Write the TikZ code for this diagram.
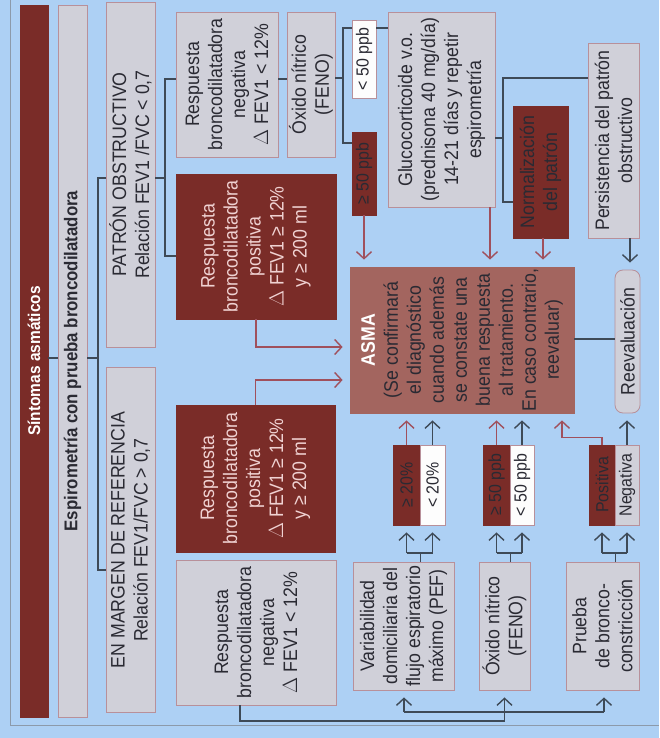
\documentclass[tikz,border=0pt]{standalone}
\usepackage{fontspec}
\setmainfont{Liberation Sans}[FakeStretch=0.91]
\usetikzlibrary{arrows.meta}

\definecolor{bgblue}{HTML}{ADD0F4}
\definecolor{darkred}{HTML}{7A2C28}
\definecolor{boxgray}{HTML}{D0D0D9}
\definecolor{boxedge}{HTML}{B8909A}
\definecolor{asmared}{HTML}{A3655F}
\definecolor{linegray}{HTML}{3E4A57}
\definecolor{linered}{HTML}{A0505C}
\definecolor{pinktext}{HTML}{F0D2D2}
\definecolor{textdark}{HTML}{2A2A33}
\definecolor{framegray}{HTML}{8C9AAA}

\begin{document}
\begin{tikzpicture}[x=1pt,y=-1pt,>={Straight Barb[length=7pt,width=15pt]},
        line width=1.4pt,
        every node/.style={rotate=90,inner sep=0pt,align=center,text=textdark,
          font=\fontsize{19.5}{23}\selectfont},
        gray box/.style={draw=boxedge,line width=0.8pt,fill=boxgray},
        red box/.style={draw=darkred,line width=0.8pt,fill=darkred},
        white box/.style={draw=boxedge,line width=0.8pt,fill=white!95!boxgray},
        asma box/.style={draw=asmared,line width=0.8pt,fill=asmared},
        pos text/.style={text=pinktext},
        small text/.style={font=\fontsize{17.5}{21}\selectfont},
        link/.style={draw=linegray},
        gray arrow/.style={draw=linegray,->,shorten >=7pt},
        red arrow/.style={draw=linered,->,shorten >=7pt}]
        \useasboundingbox (0,0) rectangle (659,738);
        \fill[bgblue] (0,0) rectangle (659,738);
        \draw[framegray,line width=0.8pt] (10,0) |- (659,725);

        % columnas de la izquierda
        \node[red box, minimum height=28pt, minimum width=712pt, text=white,
          font=\fontsize{17}{20}\selectfont\bfseries] (sintomas) at (34,361) {Síntomas asmáticos};
        \node[gray box, minimum height=29pt, minimum width=712pt,
          font=\fontsize{18.5}{22}\selectfont\bfseries] (espiro) at (72.5,361) {Espirometría con prueba broncodilatadora};
        \node[gray box, minimum height=49pt, minimum width=345pt] (obstr) at (130.5,174.5) {PATRÓN OBSTRUCTIVO\\Relación FEV1 /FVC < 0,7};
        \node[gray box, minimum height=49pt, minimum width=345pt] (margen) at (130.5,540) {EN MARGEN DE REFERENCIA\\Relación FEV1/FVC > 0,7};

        % patron obstructivo
        \node[gray box, minimum height=102pt, minimum width=145pt] (onega) at (227,84.5) {Respuesta\\broncodilatadora\\negativa\\$\Delta$ FEV1 < 12\%};
        \node[gray box, minimum height=48pt, minimum width=145pt] (ofeno) at (311,84.5) {Óxido nítrico\\(FENO)};
        \node[red box, pos text, minimum height=160pt, minimum width=145pt] (opos) at (256,246.5) {Respuesta\\broncodilatadora\\positiva\\$\Delta$ FEV1 ≥ 12\%\\y ≥ 200 ml};
        \node[white box, small text, minimum height=24pt, minimum width=78pt] (menor) at (364,59) {< 50 ppb};
        \node[red box, small text, minimum height=24pt, minimum width=83pt] (mayor) at (364,173.5) {≥ 50 ppb};
        \node[gray box, minimum height=107pt, minimum width=195pt] (gluco) at (441.5,109.5) {Glucocorticoide v.o.\\(prednisona 40 mg/día)\\14-21 días y repetir\\espirometría};
        \node[red box, minimum height=55pt, minimum width=132pt] (normal) at (540.5,172) {Normalización\\del patrón};
        \node[gray box, minimum height=51pt, minimum width=195pt] (persist) at (613.5,140.5) {Persistencia del patrón\\obstructivo};

        % centro
        \node[asma box, minimum height=224pt, minimum width=146pt] (asma) at (462,340) {{\color{white}\bfseries ASMA}\\(Se confirmará\\el diagnóstico\\cuando además\\se constate una\\buena respuesta\\al tratamiento.\\En caso contrario,\\reevaluar)};
        \node[gray box, rounded corners=8pt, minimum height=25pt, minimum width=143pt] (reeval) at (627.5,341.5) {Reevaluación};

        % margen de referencia
        \node[red box, pos text, minimum height=159pt, minimum width=147pt] (mpos) at (255.5,478.5) {Respuesta\\broncodilatadora\\positiva\\$\Delta$ FEV1 ≥ 12\%\\y ≥ 200 ml};
        \node[gray box, minimum height=160pt, minimum width=145pt] (mneg) at (256,632.5) {Respuesta\\broncodilatadora\\negativa\\$\Delta$ FEV1 < 12\%};
        \node[gray box, minimum height=101pt, minimum width=128pt] (pef) at (403.5,626) {Variabilidad\\domiciliaria del\\flujo espiratorio\\máximo (PEF)};
        \node[gray box, minimum height=51pt, minimum width=128pt] (feno) at (504.5,626) {Óxido nítrico\\(FENO)};
        \node[gray box, minimum height=73pt, minimum width=128pt] (bronco) at (602.5,626) {Prueba\\de bronco-\\constricción};
        \node[red box, small text, minimum height=27pt, minimum width=80pt] (pefhi) at (406.5,485) {≥ 20\%};
        \node[white box, small text, minimum height=25pt, minimum width=80pt] (peflo) at (432.5,485) {< 20\%};
        \node[red box, small text, minimum height=27pt, minimum width=80pt] (ppbhi) at (496.5,485) {≥ 50 ppb};
        \node[white box, small text, minimum height=24pt, minimum width=80pt] (ppblo) at (522,485) {< 50 ppb};
        \node[red box, small text, minimum height=26pt, minimum width=80pt] (brpos) at (602,485) {Positiva};
        \node[gray box, small text, minimum height=24pt, minimum width=80pt] (brneg) at (627,485) {Negativa};

        % conexiones
        \draw[link] (sintomas.south |- 0,358) -- (espiro.north |- 0,358);
        \draw[link] (espiro.south |- 0,358) -- (98,358);
        \draw[link] (obstr.north |- 0,178) -| (98,570) -- (margen.north |- 0,570);
        \draw[link] (obstr.south |- 0,178) -- (165,178);
        \draw[link] (onega.north |- 0,79) -| (165,256) -- (opos.north |- 0,256);
        \draw[link] (onega.south |- 0,79) -- (ofeno.north |- 0,79);
        \draw[link] (ofeno.south |- 0,78) -- (343,78);
        \draw[link] (menor.north |- 0,28) -| (343,143) -- (mayor.north |- 0,143);
        \draw[link] (menor.south |- 0,28) -- (gluco.north |- 0,28);
        \draw[red arrow] (mayor.west) -- (mayor.west |- asma.east);
        \draw[red arrow] (gluco.west -| 490,0) -- (asma.east -| 490,0);
        \draw[link] (gluco.south |- 0,138) -- (503,138);
        \draw[link] (persist.north |- 0,78) -| (503,202) -- (normal.north |- 0,202);
        \draw[red arrow] (normal.west -| 543,0) -- (asma.east -| 543,0);
        \draw[gray arrow] (persist.west -| 630,0) -- (reeval.east -| 630,0);
        \draw[link] (asma.south |- 0,339) -- (reeval.north |- 0,339);
        \draw[red arrow] (opos.west) |- (asma.north |- 0,347);
        \draw[red arrow] (mpos.east) |- (asma.north |- 0,380);

        \draw[link] (mneg.west -| 240,0) |- (feno.west |- 0,721) -- (feno.west |- 0,712);
        \draw[link] (404,712) coordinate (b1) -- (604,712) coordinate (b3);
        \draw[gray arrow] (b1) -- (b1 |- pef.west);
        \draw[gray arrow] (feno.west |- b1) -- (feno.west);
        \draw[gray arrow] (b3) -- (b3 |- bronco.west);

        \foreach \src/\hi/\lo in {pef/pefhi/peflo,feno/ppbhi/ppblo,bronco/brpos/brneg}{
          \draw[link] (\src.east -| \hi.south) -- (\hi.south |- 0,553);
          \draw[link] (\hi.west |- 0,553) -- (\lo.west |- 0,553);
          \draw[gray arrow] (\hi.west |- 0,553) -- (\hi.west);
          \draw[gray arrow] (\lo.west |- 0,553) -- (\lo.west);
        }
        \draw[red arrow] (pefhi.east) -- (pefhi.east |- asma.west);
        \draw[gray arrow] (peflo.east) -- (peflo.east |- asma.west);
        \draw[red arrow] (ppbhi.east) -- (ppbhi.east |- asma.west);
        \draw[gray arrow] (ppblo.east) -- (ppblo.east |- asma.west);
        \draw[red arrow] (brpos.east) -- ++(0,-7) -| (asma.west -| 562,0);
        \draw[gray arrow] (brneg.east) -- (brneg.east |- reeval.west);
\end{tikzpicture}
\end{document}
